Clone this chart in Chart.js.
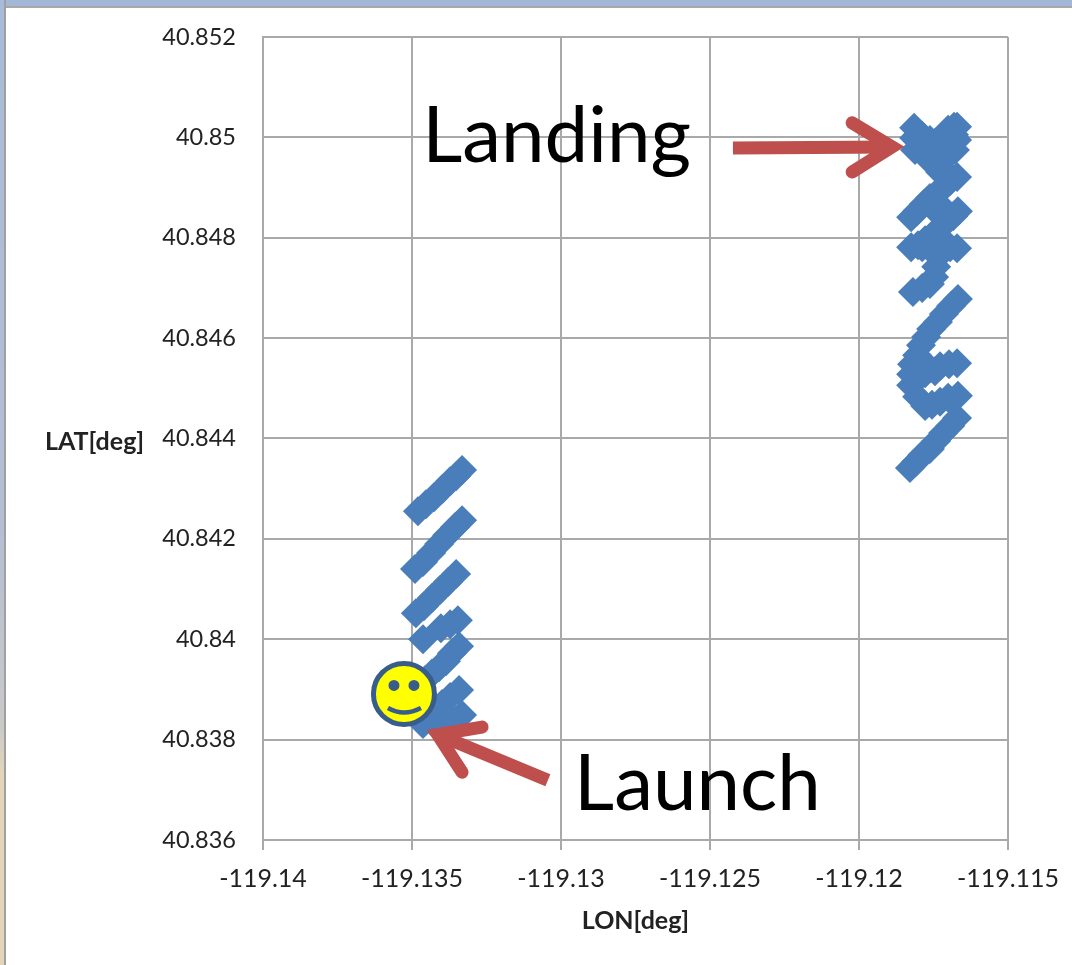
<!DOCTYPE html>
<html>
<head>
<meta charset="utf-8">
<script src="https://cdn.jsdelivr.net/npm/chart.js@4/dist/chart.umd.min.js"></script>
<style>
  html, body { margin: 0; padding: 0; background: #fff; overflow: hidden; }
  #stripTop { position: absolute; left: 0; top: 0; width: 1072px; height: 6px; background: #a3b7d8; border-bottom: 2px solid #a8a8a8; }
  #stripLeft { position: absolute; left: 0; top: 0; width: 4px; height: 965px; background: linear-gradient(#a9bbd8 0%, #b4bfd2 55%, #c9c9c9 75%, #e3d4ba 80%, #e3d4ba 100%); border-right: 2px solid #a0a0a0; }
  #chart { position: absolute; left: 0; top: 0; }
</style>
</head>
<body>
<div id="stripTop"></div>
<div id="stripLeft"></div>
<canvas id="chart" width="1072" height="965"></canvas>
<script>
const xTickValues = [-119.14, -119.135, -119.13, -119.125, -119.12, -119.115];
const yTickValues = [40.836, 40.838, 40.84, 40.842, 40.844, 40.846, 40.848, 40.85, 40.852];

// 打上げ側の点列
const launchLon = [
  -119.13480, -119.13453, -119.13426, -119.13399, -119.13372, -119.13352, -119.13332,
  -119.13490, -119.13463, -119.13436, -119.13409, -119.13382, -119.13356, -119.13332,
  -119.13487, -119.13460, -119.13433, -119.13406, -119.13379, -119.13352,
  -119.13463, -119.13403, -119.13372, -119.13346,
  -119.13342, -119.13366, -119.13386, -119.13409, -119.13433, -119.13456, -119.13480,
  -119.13342, -119.13372, -119.13399, -119.13423, -119.13446,
  -119.13332, -119.13366, -119.13399, -119.13433, -119.13463, -119.13440, -119.13389, -119.13423
];
const launchLat = [
  40.84255, 40.84269, 40.84283, 40.84299, 40.84315, 40.84325, 40.84337,
  40.84140, 40.84154, 40.84172, 40.84190, 40.84207, 40.84223, 40.84237,
  40.84052, 40.84066, 40.84082, 40.84098, 40.84114, 40.84130,
  40.84000, 40.84022, 40.84030, 40.84038,
  40.83986, 40.83972, 40.83956, 40.83944, 40.83932, 40.83919, 40.83903,
  40.83899, 40.83885, 40.83871, 40.83859, 40.83847,
  40.83849, 40.83843, 40.83839, 40.83835, 40.83831, 40.83855, 40.83849, 40.83847
];

// 着地側の点列
const landingLon = [
  -119.11815, -119.11815, -119.11812, -119.11795, -119.11772, -119.11762, -119.11762, -119.11728,
  -119.11728, -119.11701, -119.11701, -119.11671, -119.11681, -119.11671, -119.11678, -119.11788, -119.11745,
  -119.11778, -119.11745, -119.11711, -119.11694, -119.11711, -119.11745, -119.11762, -119.11802, -119.11681,
  -119.11728, -119.11701, -119.11671, -119.11694, -119.11711, -119.11728, -119.11738, -119.11762, -119.11782, -119.11805, -119.11825,
  -119.11668, -119.11684, -119.11704, -119.11728, -119.11745, -119.11778, -119.11802, -119.11825,
  -119.11671, -119.11694, -119.11721, -119.11751, -119.11788, -119.11728, -119.11728,
  -119.11735, -119.11741, -119.11748, -119.11762, -119.11788, -119.11819,
  -119.11668, -119.11691, -119.11715, -119.11735, -119.11758, -119.11775, -119.11792, -119.11805, -119.11819,
  -119.11788, -119.11762, -119.11728, -119.11698, -119.11671, -119.11778, -119.11745,
  -119.11822, -119.11825, -119.11825, -119.11805, -119.11778, -119.11755, -119.11728, -119.11701, -119.11668,
  -119.11671, -119.11694, -119.11718, -119.11741, -119.11762, -119.11788, -119.11809, -119.11829
];
const landingLat = [
  40.85019, 40.84999, 40.84975, 40.84983, 40.84959, 40.84995, 40.84975, 40.84971,
  40.84951, 40.84985, 40.85015, 40.85021, 40.85021, 40.84995, 40.84975, 40.85003, 40.84959,
  40.84985, 40.84989, 40.84999, 40.84979, 40.84959, 40.84945, 40.84965, 40.84995, 40.85005,
  40.84931, 40.84927, 40.84921, 40.84913, 40.84903, 40.84895, 40.84889, 40.84879, 40.84867, 40.84853, 40.84841,
  40.84853, 40.84843, 40.84833, 40.84821, 40.84805, 40.84795, 40.84785, 40.84781,
  40.84779, 40.84781, 40.84781, 40.84781, 40.84781, 40.84865, 40.84845,
  40.84762, 40.84742, 40.84722, 40.84708, 40.84700, 40.84692,
  40.84678, 40.84664, 40.84648, 40.84632, 40.84618, 40.84602, 40.84586, 40.84566, 40.84548,
  40.84544, 40.84540, 40.84544, 40.84548, 40.84550, 40.84530, 40.84534,
  40.84548, 40.84528, 40.84506, 40.84483, 40.84465, 40.84467, 40.84473, 40.84481, 40.84485,
  40.84441, 40.84425, 40.84411, 40.84395, 40.84379, 40.84367, 40.84353, 40.84341
];

// 注釈の位置 (経度, 緯度) 並びは 尾, 頭の折れ点, 羽根, 羽根
const landingArrowLon = [-119.12423, -119.11889, -119.12023, -119.12023];
const landingArrowLat = [40.84979, 40.84981, 40.85029, 40.84931];
const launchArrowLon = [-119.13044, -119.13414, -119.13265, -119.13332];
const launchArrowLat = [40.83719, 40.83810, 40.83825, 40.83735];
const landingText = 'Landing';
const landingTextAt = [-119.13466, 40.84950];
const launchText = 'Launch';
const launchTextAt = [-119.12956, 40.83659];
const smileyAt = [-119.13527, 40.83891];

const gridColor = '#a9a9a9';
const textColor = '#222222';
const arrowColor = '#be4f4c';

function toPoints(lons, lats) {
  const n = Math.min(lons.length, lats.length);
  const pts = [];
  for (let i = 0; i < n; i++) {
    pts.push({ x: lons[i], y: lats[i] });
  }
  return pts;
}

function drawArrow(ctx, chart, lons, lats) {
  const sx = chart.scales.x, sy = chart.scales.y;
  const px = lons.map(v => sx.getPixelForValue(v));
  const py = lats.map(v => sy.getPixelForValue(v));
  ctx.save();
  ctx.strokeStyle = arrowColor;
  ctx.lineWidth = 13;
  ctx.lineCap = 'butt';
  ctx.beginPath();
  ctx.moveTo(px[0], py[0]);
  ctx.lineTo(px[1], py[1]);
  ctx.stroke();
  ctx.lineCap = 'round';
  ctx.lineJoin = 'miter';
  ctx.beginPath();
  ctx.moveTo(px[2], py[2]);
  ctx.lineTo(px[1], py[1]);
  ctx.lineTo(px[3], py[3]);
  ctx.stroke();
  ctx.restore();
}

function drawSmiley(ctx, chart) {
  const cx = chart.scales.x.getPixelForValue(smileyAt[0]);
  const cy = chart.scales.y.getPixelForValue(smileyAt[1]);
  ctx.save();
  ctx.strokeStyle = '#385d8a';
  ctx.lineWidth = 5;
  ctx.fillStyle = '#ffff00';
  ctx.beginPath();
  ctx.arc(cx, cy, 30.5, 0, Math.PI * 2);
  ctx.fill();
  ctx.stroke();
  // 目
  ctx.fillStyle = '#385d8a';
  ctx.beginPath();
  ctx.arc(cx - 10, cy - 8.5, 5.5, 0, Math.PI * 2);
  ctx.arc(cx + 10, cy - 8.5, 5.5, 0, Math.PI * 2);
  ctx.fill();
  // 口
  ctx.lineWidth = 4.5;
  ctx.beginPath();
  ctx.moveTo(cx - 16, cy + 14);
  ctx.quadraticCurveTo(cx, cy + 23, cx + 17, cy + 14);
  ctx.stroke();
  ctx.restore();
}

const annotations = {
  id: 'annotations',
  afterDraw(chart) {
    const ctx = chart.ctx;
    const sx = chart.scales.x, sy = chart.scales.y;

    // 縦軸タイトルは横書きなので自分で描く
    ctx.save();
    ctx.font = 'bold 25px Lato';
    ctx.fillStyle = textColor;
    ctx.textAlign = 'left';
    ctx.textBaseline = 'middle';
    ctx.fillText('LAT[deg]', 45, sy.getPixelForValue(40.844) + 3);

    drawArrow(ctx, chart, landingArrowLon, landingArrowLat);
    drawArrow(ctx, chart, launchArrowLon, launchArrowLat);
    drawSmiley(ctx, chart);

    ctx.font = '78px Lato';
    ctx.fillStyle = '#000000';
    ctx.textBaseline = 'alphabetic';
    ctx.fillText(landingText, sx.getPixelForValue(landingTextAt[0]), sy.getPixelForValue(landingTextAt[1]));
    ctx.fillText(launchText, sx.getPixelForValue(launchTextAt[0]), sy.getPixelForValue(launchTextAt[1]));
    ctx.restore();
  }
};

new Chart(document.getElementById('chart'), {
  type: 'scatter',
  plugins: [annotations],
  data: {
    datasets: [{
      data: toPoints(launchLon, launchLat).concat(toPoints(landingLon, landingLat)),
      backgroundColor: '#4a7ebb',
      borderWidth: 0,
      pointStyle: 'rectRot',
      pointRadius: 15,
      pointHoverRadius: 15
    }]
  },
  options: {
    responsive: false,
    animation: false,
    devicePixelRatio: 1,
    layout: { padding: { top: 37, right: 64, left: 0, bottom: 0 } },
    plugins: { legend: { display: false }, tooltip: { enabled: false } },
    scales: {
      x: {
        type: 'linear',
        min: -119.14,
        max: -119.115,
        afterBuildTicks: (axis) => { axis.ticks = xTickValues.map(v => ({ value: v })); },
        // ラベルの幅で枠がずれないように余白を消す
        afterFit: (axis) => { axis.height = 125; axis.paddingLeft = 0; axis.paddingRight = 0; },
        grid: { color: gridColor, lineWidth: 2, tickLength: 10, drawTicks: true },
        border: { color: gridColor, width: 2 },
        ticks: {
          color: textColor,
          font: { family: 'Lato', size: 25 },
          padding: 14,
          maxRotation: 0,
          autoSkip: false,
          callback: (v) => String(Number(v.toFixed(3)))
        },
        title: {
          display: true,
          text: 'LON[deg]',
          color: textColor,
          font: { family: 'Lato', size: 25, weight: 'bold' },
          padding: { top: 16, bottom: 29 }
        }
      },
      y: {
        type: 'linear',
        min: 40.836,
        max: 40.852,
        afterBuildTicks: (axis) => { axis.ticks = yTickValues.map(v => ({ value: v })); },
        afterFit: (axis) => { axis.width = 263; axis.paddingTop = 0; axis.paddingBottom = 0; },
        grid: { color: gridColor, lineWidth: 2, tickLength: 0, drawTicks: false },
        border: { color: gridColor, width: 2 },
        ticks: {
          color: textColor,
          font: { family: 'Lato', size: 23.5 },
          padding: 27,
          autoSkip: false,
          callback: (v) => String(Number(v.toFixed(3)))
        }
      }
    }
  }
});
</script>
</body>
</html>
